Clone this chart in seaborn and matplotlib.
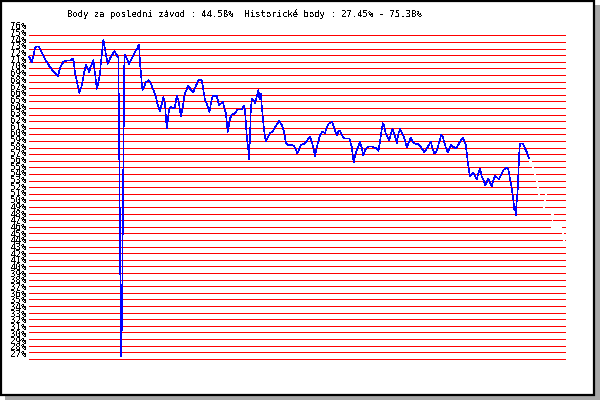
import matplotlib
matplotlib.use("Agg")
import matplotlib.pyplot as plt
import matplotlib.transforms as mtransforms
from matplotlib.patches import Rectangle
import seaborn as sns
import pandas as pd

# ---- data ----
title_text = "Body za poslední závod : 44.58%  Historické body : 27.45% - 75.38%"

race = [
    0, 1.5, 2.9, 3.5, 5, 6.5, 8.4, 10.5, 11.7, 14.5,
    15.5, 17.2, 18.9, 20.5, 21.9, 22.5, 23, 24.2, 25.2, 26.4,
    27.5, 28.5, 29.4, 30.2, 30.5, 31.4, 32.2, 32.7, 33.4, 33.9,
    34.7, 35.5, 35.9, 36.7, 37.2, 37.7, 38.5, 39.4, 40.5, 41.9,
    42.7, 43.9, 44.4, 44.7, 45.5, 46, 46.5, 47, 47.7, 48.9,
    50, 51.4, 53, 54.4, 54.9, 55.2, 55.5, 56, 56.7, 57.5,
    58.5, 59.7, 60.9, 62.2, 63.4, 64.4, 65.5, 66.4, 67.2, 68,
    68.5, 68.9, 69.4, 70, 71, 72.2, 73, 73.9, 74.7, 75.5,
    76, 76.9, 77.7, 78.9, 79.7, 81, 82.2, 83.5, 84.7, 86.4,
    87.5, 88, 89.2, 90.2, 91.4, 92.2, 93.9, 95, 96, 96.9,
    97.5, 98.4, 99.4, 100.5, 101.4, 103, 104.4, 106.4, 107.5, 108,
    108.9, 109.7, 110, 110.5, 110.9, 111.4, 112.2, 113, 113.9, 114.7,
    115.2, 115.9, 116.4, 117.2, 118, 118.5, 119.4, 120.5, 121.9, 123,
    124.2, 125.2, 126.4, 127.5, 128.5, 129.7, 131.4, 132.7, 134.2, 135.2,
    136, 137.7, 138.9, 140.5, 141.4, 142.2, 143, 143.9, 144.7, 145.5,
    146.7, 148, 148.9, 149.7, 151.4, 152.2, 153, 153.9, 154.7, 155.5,
    156.9, 158, 160.2, 161.4, 161.9, 162.5, 163, 163.9, 164.7, 165.5,
    166.4, 167.2, 168, 168.9, 170, 171.4, 172.5, 173.5, 174.7, 175.5,
    176, 176.9, 177.5, 178.4, 179.7, 180.2, 180.9, 181.7, 182.5, 183.4,
    183.9, 184.7, 185.5, 186.7, 187.7, 188.9, 189.7, 190.9, 191.9, 193,
    194.7, 195.9, 196.9, 197.7, 198.9, 200, 201, 201.7, 202.7, 203.5,
    204.4, 205.5, 206, 206.9, 207.5, 208.5, 209.4, 210.2, 211, 212.2,
    213.5, 214.4, 215.5, 216.9, 217.7, 218.4, 218.9, 219.4, 219.9, 220.5,
    221, 221.9, 222.5, 223.2, 223.9, 224.7, 225.5, 226.4, 227.2, 228,
    228.9, 229.7, 230.5, 231.4, 232.2, 233, 233.9, 235, 236, 237.2,
    238, 238.9, 239.7, 240.5, 241.4, 242.2, 242.7, 243, 243.4, 243.9,
    244.4, 244.7, 245.2, 245.5, 246.7, 247.2, 248, 248.9, 249.7, 250.5,
]
score = [
    72.8, 71.9, 74.0, 74.3, 74.3, 73.3, 72.2, 71.2, 70.7, 69.8,
    71.1, 72.0, 72.2, 72.2, 72.5, 71.8, 70.3, 68.7, 67.3, 68.4,
    70.3, 71.5, 71.0, 70.4, 71.0, 71.7, 72.3, 71.0, 69.2, 67.9,
    68.9, 70.2, 71.7, 74.0, 75.38, 74.5, 73.0, 71.7, 72.5, 73.2,
    73.6, 73.0, 72.7, 72.7, 45.0, 27.45, 32.9, 51.0, 73.1, 72.5,
    71.7, 72.5, 73.5, 74.2, 74.6, 73.7, 71.7, 70.2, 67.7, 68.2,
    68.9, 69.2, 68.7, 67.7, 66.7, 65.4, 64.5, 65.7, 66.7, 65.7,
    63.4, 61.9, 63.1, 64.7, 65.2, 64.9, 65.2, 66.9, 66.2, 64.7,
    63.7, 65.2, 66.9, 67.9, 68.4, 67.7, 67.4, 68.4, 69.2, 69.2,
    67.2, 66.2, 65.4, 64.4, 66.4, 66.9, 66.8, 65.4, 65.7, 65.9,
    65.2, 64.2, 61.4, 63.4, 64.0, 64.2, 64.8, 64.8, 65.4, 64.7,
    60.6, 58.6, 57.2, 60.6, 64.7, 66.4, 66.2, 65.7, 66.8, 67.7,
    66.4, 67.2, 65.2, 62.6, 60.6, 59.9, 60.6, 61.2, 61.5, 62.1,
    62.6, 63.1, 62.4, 61.4, 59.6, 59.4, 59.4, 59.2, 58.1, 58.9,
    59.4, 59.6, 60.0, 60.7, 59.9, 58.9, 57.7, 59.1, 59.9, 60.9,
    61.4, 61.2, 62.1, 62.6, 62.9, 62.4, 61.6, 60.9, 61.4, 61.6,
    60.6, 60.4, 60.4, 59.1, 57.6, 56.8, 57.8, 58.6, 59.2, 59.9,
    58.9, 57.8, 58.6, 59.0, 59.2, 59.2, 59.0, 58.9, 58.5, 59.9,
    61.1, 62.7, 62.4, 61.1, 60.4, 60.1, 61.1, 61.8, 61.1, 60.4,
    59.7, 61.1, 61.8, 61.1, 60.4, 59.1, 59.6, 60.5, 59.9, 59.6,
    59.5, 59.1, 58.7, 58.3, 58.9, 59.4, 59.9, 58.9, 58.1, 58.3,
    59.1, 60.2, 60.9, 60.6, 59.9, 58.9, 58.3, 58.9, 59.4, 59.1,
    58.9, 59.3, 59.9, 60.5, 59.9, 59.4, 58.1, 56.8, 55.8, 54.6,
    54.8, 55.2, 55.0, 54.6, 54.2, 55.1, 55.8, 54.6, 54.1, 53.3,
    53.8, 54.3, 53.7, 53.2, 54.1, 54.7, 54.5, 54.2, 54.8, 55.6,
    55.8, 56.0, 55.6, 54.3, 52.8, 51.0, 49.5, 50.0, 48.8, 51.0,
    52.8, 55.3, 58.6, 59.6, 59.6, 59.4, 58.9, 58.3, 57.6, 57.1,
]
# last segment (drawn in white in the reference)
last_race = [250.5, 254, 255.5, 258.5, 257.5, 262, 261.5, 266, 268]
last_score = [57.1, 54.1, 51.3, 51.8, 49.8, 48.8, 46.8, 47.0, 44.58]

grid_levels = list(range(27, 77))
grid_labels = [f"{v}%" for v in grid_levels]

# ---- figure ----
sns.set_style("white")
plt.rcParams["font.family"] = ["DejaVu Sans Mono", "DejaVu Sans"]
plt.rcParams["lines.antialiased"] = False
plt.rcParams["text.antialiased"] = False

W, H = 600, 400
fig = plt.figure(figsize=(6, 4), dpi=100)
fig.patch.set_facecolor("white")

# drop shadow and bordered white frame
fig.patches.append(Rectangle((5 / W, 0), 595 / W, 395 / H, transform=fig.transFigure,
                             facecolor="#a8a8a8", edgecolor="none", zorder=-20))
fig.patches.append(Rectangle((1.3 / W, (H - 394.5) / H), 593 / W, 393.7 / H,
                             transform=fig.transFigure, facecolor="white",
                             edgecolor="black", linewidth=1.6, zorder=-10))

ax = fig.add_axes([29 / W, 34 / H, 537 / W, 338 / H])
ax.patch.set_alpha(0)

df = pd.DataFrame({"race": race, "score": score})
df_last = pd.DataFrame({"race": last_race, "score": last_score})

sns.lineplot(data=df, x="race", y="score", sort=False, estimator=None,
             color="#0000ff", linewidth=0.42, ax=ax, zorder=3, clip_on=False)
sns.lineplot(data=df_last, x="race", y="score", sort=False, estimator=None,
             color="white", linewidth=0.5, ax=ax, zorder=3)

ax.set_xlim(0, 268.5)
ax.set_ylim(25.92, 77.12)
ax.set_yticks(grid_levels)
ax.set_yticklabels(grid_labels)
ax.set_xticks([])
ax.set_xlabel("")
ax.set_ylabel("")
for s in ax.spines.values():
    s.set_visible(False)
ax.yaxis.grid(True, color="#ff0000", linewidth=0.5)
ax.xaxis.grid(False)
ax.set_axisbelow(True)
ax.tick_params(axis="y", length=0, pad=1.6, labelsize=6.6, colors="black")

# labels sit just above their lines (slightly wider spacing than the lines)
for lab, v in zip(ax.get_yticklabels(), grid_levels):
    dy = (5.5 + (v - 27) / 49 * 4.0) / 100.0
    lab.set_transform(lab.get_transform() +
                      mtransforms.ScaledTranslation(0, dy, fig.dpi_scale_trans))

fig.text(244.5 / W, 1 - 14 / H, title_text, ha="center", va="center",
         fontsize=6.4, color="black", family=["DejaVu Sans Mono", "DejaVu Sans"])

fig.savefig("out.png", dpi=100)
